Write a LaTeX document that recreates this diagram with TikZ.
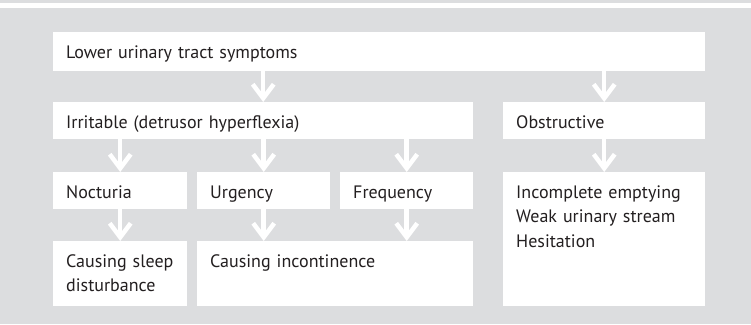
\documentclass[tikz,border=0pt]{standalone}
\usepackage{fontspec}
\setmainfont{PT Sans}
\usetikzlibrary{arrows.meta}
\definecolor{panel}{RGB}{220,221,223}
\definecolor{ink}{RGB}{35,31,32}
\tikzset{
  box/.style={fill=white, anchor=north west, inner xsep=13pt, inner ysep=0pt,
    text height=26pt, text depth=12pt, align=left, text=ink,
    font=\fontsize{18}{24.5}\selectfont},
  arr/.style={draw=white, line width=4.5pt,
    -{Straight Barb[length=14pt, width=21pt, line cap=butt, line join=miter]}},
}
\begin{document}
\begin{tikzpicture}[x=1pt, y=-1pt]
\useasboundingbox (0,0) rectangle (751,324);
\fill[panel] (0,0) rectangle (751,3);
\fill[panel] (0,8) rectangle (751,324);

\node[box, text width=626pt, text depth=13pt] (luts) at (53,32) {Lower urinary tract symptoms};
\node[box, text width=394pt, text depth=11pt] (irr) at (53,102) {Irritable (detrusor hyperflexia)};
\node[box, text width=176pt, text depth=11pt] (obs) at (503,102) {Obstructive};
\node[box, text width=108pt, text depth=11pt] (noc) at (53,172) {Nocturia};
\node[box, text width=107pt, text depth=11pt] (urg) at (197,172) {Urgency};
\node[box, text width=107pt, text depth=11pt] (freq) at (340,172) {Frequency};
\node[box, text width=108pt, text depth=39pt] (sleep) at (53,241) {Causing sleep\\disturbance};
\node[box, text width=250pt, text depth=39pt] (incont) at (197,241) {Causing incontinence};
\node[box, text width=176pt, text depth=108pt] (list) at (503,172) {Incomplete emptying\\Weak urinary stream\\Hesitation};

\draw[arr] (irr.north |- luts.south) -- (irr.north);
\draw[arr] (obs.north |- luts.south) -- (obs.north);
\draw[arr] (noc.north |- irr.south) -- (noc.north);
\draw[arr] (urg.north |- irr.south) -- (urg.north);
\draw[arr] (freq.north |- irr.south) -- (freq.north);
\draw[arr] (obs.south) -- (list.north);
\draw[arr] (noc.south) -- (sleep.north);
\draw[arr] (urg.south) -- (urg.south |- incont.north);
\draw[arr] (freq.south) -- (freq.south |- incont.north);
\end{tikzpicture}
\end{document}
